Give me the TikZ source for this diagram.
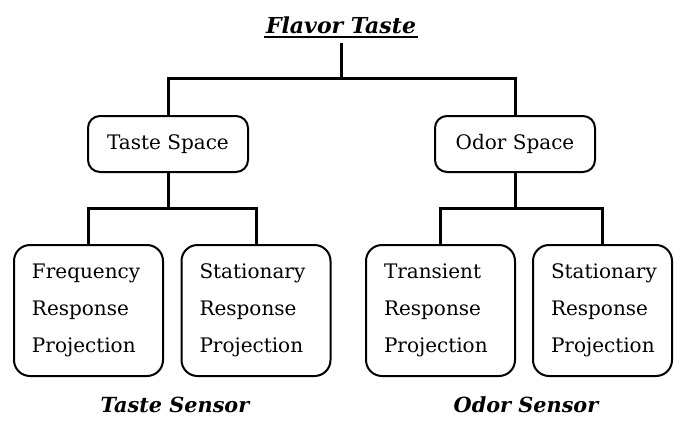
\documentclass[tikz,border=0pt]{standalone}
\usepackage{fontspec}
\setmainfont{DejaVu Serif}
\usepackage{tikz}
\usetikzlibrary{positioning,calc}

\begin{document}
\begin{tikzpicture}[x=0.5pt, y=-0.5pt,
    link/.style={line width=1.5pt},
    spacebox/.style={rectangle, rounded corners=6pt, draw, line width=1pt, minimum width=80pt, minimum height=28pt, font=\fontsize{10}{12}\selectfont},
    leafbox/.style={rectangle, rounded corners=8pt, draw, line width=1pt, align=left, inner xsep=9pt, text width=56.5pt, minimum height=65.5pt, font=\fontsize{10}{18.5}\selectfont},
    heading/.style={inner sep=2pt, font=\fontsize{11}{13}\selectfont\bfseries\itshape}]
    \useasboundingbox (0,0) rectangle (674,425);

    % top of the tree
    \node[heading] (title) at (341,25) {Flavor Taste};
    \draw[line width=1pt] ($(title.south west)+(2,-1)$) -- ($(title.south east)+(-2,-1)$);
    \coordinate (j0) at (341,78);
    \node[spacebox] (taste) at (168,144) {Taste Space};
    \node[spacebox] (odor) at (515,144) {Odor Space};
    \draw[link] ($(title.south)+(0,5)$) -- (j0);
    \draw[link] (j0) -| (taste.north);
    \draw[link] (j0) -| (odor.north);

    % sensor leaves
    \node[leafbox] (freq) at (88.5,310.5) {Frequency\\Response\\Projection};
    \node[leafbox] (tstat) at (256,310.5) {Stationary\\Response\\Projection};
    \node[leafbox] (trans) at (440.5,310.5) {Transient\\Response\\Projection};
    \node[leafbox, text width=51.5pt] (ostat) at (602.5,310.5) {Stationary\\Response\\Projection};
    \coordinate (j1) at (168,208);
    \coordinate (j2) at (515,208);
    \draw[link] (taste.south) -- (j1);
    \draw[link] (j1) -| (freq.north);
    \draw[link] (j1) -| (tstat.north);
    \draw[link] (odor.south) -- (j2);
    \draw[link] (j2) -| (trans.north);
    \draw[link] (j2) -| (ostat.north);

    \node[heading, font=\fontsize{10.4}{12}\selectfont\bfseries\itshape] (tsense) at (175,405) {Taste Sensor};
    \node[heading, font=\fontsize{10.4}{12}\selectfont\bfseries\itshape] (osense) at (526,405) {Odor Sensor};
\end{tikzpicture}
\end{document}
